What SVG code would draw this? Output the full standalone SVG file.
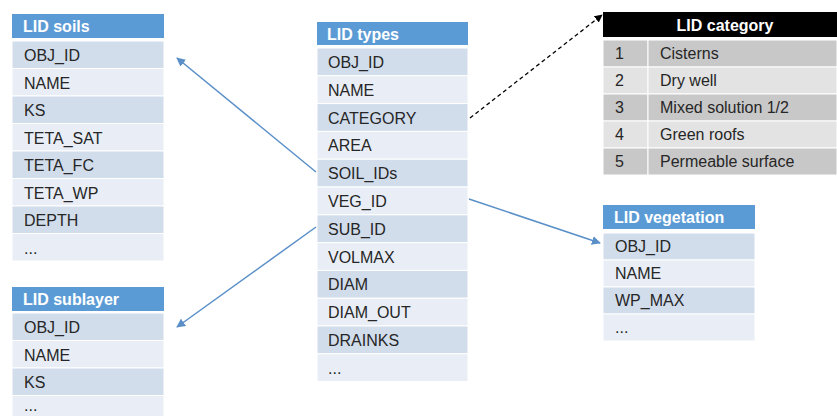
<svg xmlns="http://www.w3.org/2000/svg" width="837" height="416" viewBox="0 0 837 416">
<defs>
<style>
.hdr{fill:#5b9bd5}
.r1{fill:#d2ddec;stroke:#fff;stroke-width:1}
.r2{fill:#e9eef6;stroke:#fff;stroke-width:1}
.g1{fill:#c8c8c8;stroke:#fff;stroke-width:1}
.g2{fill:#e3e3e3;stroke:#fff;stroke-width:1}
text{font-family:"Liberation Sans",Arial,sans-serif;font-size:16px;fill:#262626}
.ht{font-weight:bold;fill:#fff}
.conn{fill:none;stroke:#5a8fc8;stroke-width:1.5}
.dash{fill:none;stroke:#000;stroke-width:1.3;stroke-dasharray:4 3}
</style>
<marker id="ab" viewBox="0 0 10 10" refX="9" refY="5" markerWidth="9" markerHeight="9" orient="auto" markerUnits="userSpaceOnUse">
<path d="M0,0 L10,5 L0,10 z" fill="#5a8fc8"/>
</marker>
<marker id="ak" viewBox="0 0 10 10" refX="9" refY="5" markerWidth="8" markerHeight="8" orient="auto" markerUnits="userSpaceOnUse">
<path d="M0,0 L10,5 L0,10 z" fill="#000"/>
</marker>
</defs>
<rect width="837" height="416" fill="#fff"/>

<g id="lid-soils">
<rect class="hdr" x="12" y="14" width="152" height="24"/>
<text class="ht" x="23" y="32">LID soils</text>
<rect class="r1" x="12" y="41" width="152" height="27.5"/>
<rect class="r2" x="12" y="68.5" width="152" height="27.5"/>
<rect class="r1" x="12" y="96" width="152" height="27.5"/>
<rect class="r2" x="12" y="123.5" width="152" height="27.5"/>
<rect class="r1" x="12" y="151" width="152" height="27.5"/>
<rect class="r2" x="12" y="178.5" width="152" height="27.5"/>
<rect class="r1" x="12" y="206" width="152" height="27.5"/>
<rect class="r2" x="12" y="233.5" width="152" height="27.5"/>
<text x="24" y="61">OBJ_ID</text>
<text x="24" y="88.5">NAME</text>
<text x="24" y="116">KS</text>
<text x="24" y="143.5">TETA_SAT</text>
<text x="24" y="171">TETA_FC</text>
<text x="24" y="198.5">TETA_WP</text>
<text x="24" y="226">DEPTH</text>
<text x="24" y="253.5">...</text>
</g>

<g id="lid-types">
<rect class="hdr" x="317" y="22" width="151" height="23"/>
<text class="ht" x="327" y="40">LID types</text>
<rect class="r1" x="317" y="48" width="151" height="27.8"/>
<rect class="r2" x="317" y="75.8" width="151" height="27.8"/>
<rect class="r1" x="317" y="103.6" width="151" height="27.8"/>
<rect class="r2" x="317" y="131.4" width="151" height="27.8"/>
<rect class="r1" x="317" y="159.2" width="151" height="27.8"/>
<rect class="r2" x="317" y="187" width="151" height="27.8"/>
<rect class="r1" x="317" y="214.8" width="151" height="27.8"/>
<rect class="r2" x="317" y="242.6" width="151" height="27.8"/>
<rect class="r1" x="317" y="270.4" width="151" height="27.8"/>
<rect class="r2" x="317" y="298.2" width="151" height="27.8"/>
<rect class="r1" x="317" y="326" width="151" height="27.8"/>
<rect class="r2" x="317" y="353.8" width="151" height="27.8"/>
<text x="328" y="68">OBJ_ID</text>
<text x="328" y="95.8">NAME</text>
<text x="328" y="123.6">CATEGORY</text>
<text x="328" y="151.4">AREA</text>
<text x="328" y="179.2">SOIL_IDs</text>
<text x="328" y="207">VEG_ID</text>
<text x="328" y="234.8">SUB_ID</text>
<text x="328" y="262.6">VOLMAX</text>
<text x="328" y="290.4">DIAM</text>
<text x="328" y="318.2">DIAM_OUT</text>
<text x="328" y="346">DRAINKS</text>
<text x="328" y="373.8">...</text>
</g>

<g id="lid-category">
<rect x="603" y="12" width="234" height="25" fill="#000"/>
<text class="ht" x="725" y="31" text-anchor="middle">LID category</text>
<rect class="g1" x="603" y="40" width="45" height="27"/>
<rect class="g1" x="648" y="40" width="189" height="27"/>
<rect class="g2" x="603" y="67" width="45" height="27"/>
<rect class="g2" x="648" y="67" width="189" height="27"/>
<rect class="g1" x="603" y="94" width="45" height="27"/>
<rect class="g1" x="648" y="94" width="189" height="27"/>
<rect class="g2" x="603" y="121" width="45" height="27"/>
<rect class="g2" x="648" y="121" width="189" height="27"/>
<rect class="g1" x="603" y="148" width="45" height="27"/>
<rect class="g1" x="648" y="148" width="189" height="27"/>
<text x="615" y="59">1</text><text x="660" y="59">Cisterns</text>
<text x="615" y="86">2</text><text x="660" y="86">Dry well</text>
<text x="615" y="113">3</text><text x="660" y="113">Mixed  solution 1/2</text>
<text x="615" y="140">4</text><text x="660" y="140">Green roofs</text>
<text x="615" y="167">5</text><text x="660" y="167">Permeable surface</text>
</g>

<g id="lid-vegetation">
<rect class="hdr" x="603" y="205" width="152" height="24"/>
<text class="ht" x="614" y="223">LID vegetation</text>
<rect class="r1" x="603" y="233" width="152" height="27"/>
<rect class="r2" x="603" y="260" width="152" height="27"/>
<rect class="r1" x="603" y="287" width="152" height="27"/>
<rect class="r2" x="603" y="314" width="152" height="27"/>
<text x="615" y="252">OBJ_ID</text>
<text x="615" y="279">NAME</text>
<text x="615" y="306">WP_MAX</text>
<text x="615" y="333">...</text>
</g>

<g id="lid-sublayer">
<rect class="hdr" x="12" y="287" width="152" height="24"/>
<text class="ht" x="23" y="305">LID sublayer</text>
<rect class="r1" x="12" y="313" width="152" height="27.5"/>
<rect class="r2" x="12" y="340.5" width="152" height="27.5"/>
<rect class="r1" x="12" y="368" width="152" height="27.5"/>
<rect class="r2" x="12" y="395.5" width="152" height="27.5"/>
<text x="24" y="333">OBJ_ID</text>
<text x="24" y="360.5">NAME</text>
<text x="24" y="388">KS</text>
<text x="24" y="411">...</text>
</g>

<g id="connectors">
<line class="conn" x1="316" y1="172" x2="177" y2="58" marker-end="url(#ab)"/>
<line class="conn" x1="316" y1="227" x2="177" y2="327" marker-end="url(#ab)"/>
<line class="conn" x1="469" y1="199" x2="600" y2="243" marker-end="url(#ab)"/>
<line class="dash" x1="470" y1="118" x2="602" y2="15" marker-end="url(#ak)"/>
</g>
</svg>
